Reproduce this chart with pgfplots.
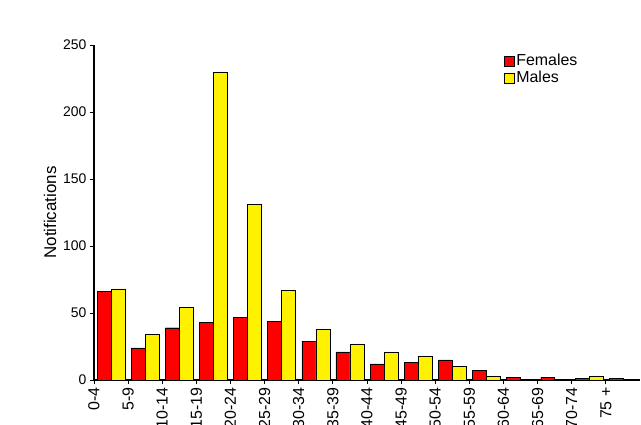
\documentclass[border=0pt]{standalone}
\usepackage{pgfplots}
\pgfplotsset{compat=1.18}
\usepackage{fontspec}
\setmainfont{Liberation Sans}
\begin{document}
\begin{tikzpicture}
\useasboundingbox (0,0) rectangle (641bp,425bp);
\begin{axis}[at={(94bp,45bp)},anchor=south west,scale only axis,
 width=546bp,height=335bp,
 xmin=-0.5,xmax=15.5,ymin=0,ymax=250,
 axis x line*=bottom, axis y line*=left,
 axis line style={line width=1.2pt},
 ybar=0pt, bar width=0.41, 
 ytick={0,50,100,150,200,250},
 tick style={black,thick}, tick align=outside, major tick length=4bp,
 yticklabel style={font=\fontsize{14}{16}\selectfont},
 xtick={-0.5,0.5,...,14.5},
 xticklabels={0-4,5-9,10-14,15-19,20-24,25-29,30-34,35-39,40-44,45-49,50-54,55-59,60-64,65-69,70-74,75 +},
 xticklabel style={rotate=90,anchor=east,font=\fontsize{16}{18}\selectfont},
 ylabel={Notifications}, ylabel style={font=\fontsize{17}{19}\selectfont},
 /pgf/number format/assume math mode=true,
 legend style={draw=none,fill=none,at={(0.745,0.985)},anchor=north west,font=\fontsize{16}{19}\selectfont,legend cell align=left,
   /tikz/every odd column/.style={inner xsep=1bp}},
 legend image code/.code={\draw[#1] (0bp,-5bp) rectangle (10bp,5bp);},
]
\addplot[fill=red,draw=black] coordinates {(0,66)(1,24)(2,39)(3,43)(4,47)(5,44)(6,29)(7,21)(8,12)(9,13)(10,15)(11,7)(12,2)(13,2)(14,1)(15,1)};
\addplot[fill=yellow,draw=black] coordinates {(0,68)(1,34)(2,54)(3,230)(4,131)(5,67)(6,38)(7,27)(8,21)(9,18)(10,10)(11,3)(12,0)(13,0)(14,3)(15,0)};
\legend{Females,Males}
\end{axis}
\end{tikzpicture}
\end{document}
